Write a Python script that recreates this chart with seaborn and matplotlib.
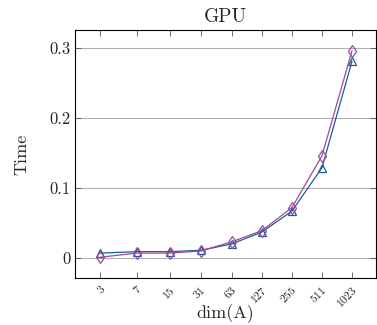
import pandas as pd
import matplotlib
matplotlib.use("Agg")
import matplotlib.pyplot as plt
import seaborn as sns

# data
dims = [3, 7, 15, 31, 63, 127, 255, 511, 1023]
time_tri = [0.007, 0.009, 0.009, 0.011, 0.020, 0.037, 0.067, 0.129, 0.281]
time_dia = [0.001, 0.007, 0.007, 0.010, 0.023, 0.039, 0.072, 0.146, 0.296]
y_ticks = [0, 0.1, 0.2, 0.3]
y_tick_labels = ["0", "0.1", "0.2", "0.3"]

df = pd.DataFrame({
    "dim": dims * 2,
    "Time": time_tri + time_dia,
    "series": ["tri"] * len(dims) + ["dia"] * len(dims),
})

sns.set_style("ticks")
plt.rcParams["font.family"] = ["serif"]
plt.rcParams["font.serif"] = ["cmr10", "DejaVu Serif"]
plt.rcParams["mathtext.fontset"] = "cm"
plt.rcParams["axes.formatter.use_mathtext"] = True

fig = plt.figure(figsize=(3.77, 3.25), dpi=100)
ax = fig.add_axes([75 / 377, 1 - 278 / 325, 301 / 377, 248 / 325])

palette = {"tri": "#1c5a9c", "dia": "#9c4a9c"}
markers = {"tri": "^", "dia": "d"}
sns.lineplot(data=df, x="dim", y="Time", hue="series", style="series",
             palette=palette, markers=markers, dashes=False,
             hue_order=["tri", "dia"], style_order=["tri", "dia"],
             linewidth=0.9, markersize=6, legend=False, ax=ax)
for line in ax.lines:
    line.set_markerfacecolor("none")
    line.set_markeredgecolor(line.get_color())
    line.set_markeredgewidth(0.9)

ax.set_xscale("log", base=2)
ax.set_xlim(2 ** 0.75, 2 ** 10.8)
ax.set_xticks(dims)
ax.set_xticklabels([str(d) for d in dims], rotation=45, fontsize=8.5,
                   ha="right", rotation_mode="anchor")
ax.minorticks_off()
ax.set_ylim(-0.0286, 0.3257)
ax.set_yticks(y_ticks)
ax.set_yticklabels(y_tick_labels, fontsize=12)
ax.yaxis.grid(True, color="#b0b0b0", linewidth=0.8)
ax.set_axisbelow(True)
ax.tick_params(direction="in", top=True, right=True, length=4, width=0.6, color="#555555")
ax.tick_params(axis="x", pad=5)
for s in ax.spines.values():
    s.set_linewidth(0.8)
    s.set_color("black")

ax.set_title("GPU", fontsize=14, pad=6)
ax.set_xlabel("dim(A)", fontsize=13, va="center")
ax.xaxis.set_label_coords(0.5, (278 - 314) / 248)
ax.set_ylabel("Time", fontsize=13, labelpad=14)

fig.savefig("out.png", dpi=100)
